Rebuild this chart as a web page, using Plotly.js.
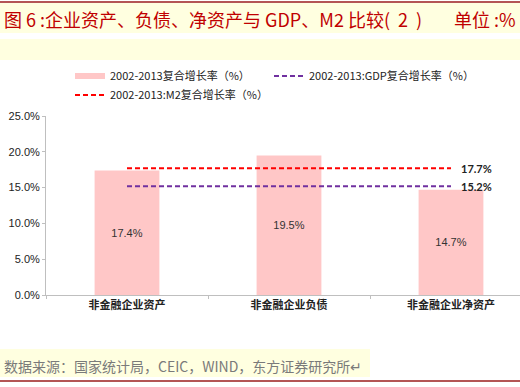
<!DOCTYPE html>
<html>
<head>
<meta charset="utf-8">
<script src="https://cdn.plot.ly/plotly-3.0.1.min.js"></script>
<style>
html,body{margin:0;padding:0;overflow:hidden;background:#fff;}
#chart{width:520px;height:387px;}
</style>
</head>
<body>
<div id="chart"></div>
<script>
// ---- data ----
const categories = ['非金融企业资产', '非金融企业负债', '非金融企业净资产'];
const cagrValues = [17.4, 19.5, 14.7];
const gdpCagr = [15.2, 15.2, 15.2];
const m2Cagr = [17.7, 17.7, 17.7];
const barLabels = ['17.4%', '19.5%', '14.7%'];
const yTickVals = [0, 5, 10, 15, 20, 25];
const yTickText = ['0.0%', '5.0%', '10.0%', '15.0%', '20.0%', '25.0%'];
const seriesNames = ['2002-2013复合增长率（%）', '2002-2013:GDP复合增长率（%）', '2002-2013:M2复合增长率（%）'];
const titleText = '图 6 :企业资产、负债、净资产与 GDP、M2 比较(  2  )';
const unitText = '单位 :%';
const sourceText = '数据来源：国家统计局，CEIC，WIND，东方证券研究所↵';

// ---- geometry helpers (pixel -> paper) ----
const W = 520, H = 387;
const L = 46, R = 520, T = 116, B = 295;
const px = x => (x - L) / (R - L);
const py = y => (B - y) / (B - T);

const pink = '#FFC7C7';
const purple = '#7030A0';
const red = '#FF0000';

const legendFont = {family: 'Noto Sans CJK SC', size: 11, color: '#222'};

const traces = [
  {
    type: 'bar', x: categories, y: cagrValues, name: seriesNames[0], showlegend: false,
    marker: {color: pink}, text: barLabels, textposition: 'inside', insidetextanchor: 'middle',
    textfont: {family: 'Liberation Sans, Arial', size: 11, color: '#333'},
    hoverinfo: 'skip'
  },
  {
    type: 'scatter', mode: 'lines', x: [null], y: [null], name: seriesNames[0],
    line: {color: pink, width: 6}, showlegend: true, legend: 'legend'
  },
  {
    type: 'scatter', mode: 'lines', x: categories, y: gdpCagr, name: seriesNames[1],
    line: {color: purple, width: 2, dash: '5px,3px'}, legend: 'legend'
  },
  {
    type: 'scatter', mode: 'lines', x: categories, y: m2Cagr, name: seriesNames[2],
    line: {color: red, width: 2, dash: '5px,3px'}, legend: 'legend2'
  }
];

const layout = {
  width: W, height: H,
  margin: {l: L, r: W - R, t: T, b: H - B, pad: 0},
  paper_bgcolor: '#fff', plot_bgcolor: '#fff',
  bargap: 0.6,
  showlegend: true,
  legend: {
    orientation: 'h', xref: 'container', yref: 'container',
    x: 70 / W, xanchor: 'left', y: 1 - 76 / H, yanchor: 'middle',
    entrywidth: 154, entrywidthmode: 'pixels',
    font: legendFont, bgcolor: 'rgba(0,0,0,0)', traceorder: 'normal'
  },
  legend2: {
    orientation: 'h', xref: 'container', yref: 'container',
    x: 70 / W, xanchor: 'left', y: 1 - 95 / H, yanchor: 'middle',
    font: legendFont, bgcolor: 'rgba(0,0,0,0)'
  },
  xaxis: {
    type: 'category', range: [-0.5, 2.5 - (532 - 520) / 162],
    showline: true, linecolor: '#BFBFBF', linewidth: 1,
    ticks: 'outside', tickson: 'boundaries', ticklen: 3, tickcolor: '#BFBFBF',
    tickfont: {family: 'Noto Sans CJK SC', size: 11, color: '#222', weight: 'bold'},
    showgrid: false, zeroline: false, fixedrange: true
  },
  yaxis: {
    range: [0, 25], tickvals: yTickVals, ticktext: yTickText,
    showline: true, linecolor: '#BFBFBF', linewidth: 1,
    ticks: 'outside', ticklen: 3, tickcolor: '#BFBFBF',
    tickfont: {family: 'Liberation Sans, Arial', size: 11, color: '#222'},
    showgrid: false, zeroline: false, fixedrange: true
  },
  shapes: [
    {type: 'line', xref: 'paper', yref: 'paper', x0: px(0), x1: px(520), y0: py(2), y1: py(2), line: {color: '#9B1C1C', width: 1.5}},
    {type: 'rect', xref: 'paper', yref: 'paper', x0: px(0), x1: px(520), y0: py(3), y1: py(33), fillcolor: '#FFFFE0', line: {width: 0}, layer: 'below'},
    {type: 'rect', xref: 'paper', yref: 'paper', x0: px(0), x1: px(520), y0: py(39), y1: py(60), fillcolor: '#FFFFE0', line: {width: 0}, layer: 'below'},
    {type: 'rect', xref: 'paper', yref: 'paper', x0: px(0), x1: px(370), y0: py(349), y1: py(377), fillcolor: '#FFFFE0', line: {width: 0}, layer: 'below'},
    {type: 'line', xref: 'paper', yref: 'paper', x0: px(0), x1: px(520), y0: py(381), y1: py(381), line: {color: '#9B1C1C', width: 1.5}}
  ],
  annotations: [
    {xref: 'paper', yref: 'paper', x: px(2), y: py(19), xanchor: 'left', yanchor: 'middle', showarrow: false,
     text: titleText, font: {family: 'Noto Sans CJK SC', size: 18, color: '#C00000'}},
    {xref: 'paper', yref: 'paper', x: px(518), y: py(19), xanchor: 'right', yanchor: 'middle', showarrow: false,
     text: unitText, font: {family: 'Noto Sans CJK SC', size: 18, color: '#C00000'}},
    {xref: 'paper', yref: 'paper', x: px(2), y: py(366), xanchor: 'left', yanchor: 'middle', showarrow: false,
     text: sourceText, font: {family: 'Noto Sans CJK SC', size: 14, color: '#7A7A7A'}},
    {xref: 'x', yref: 'y', x: categories[2], y: m2Cagr[2], xanchor: 'left', yanchor: 'middle', xshift: 8, showarrow: false,
     text: '17.7%', font: {family: 'Lato', size: 11, color: '#222', weight: 'bold'}},
    {xref: 'x', yref: 'y', x: categories[2], y: gdpCagr[2], xanchor: 'left', yanchor: 'middle', xshift: 8, showarrow: false,
     text: '15.2%', font: {family: 'Lato', size: 11, color: '#222', weight: 'bold'}}
  ]
};

Plotly.newPlot('chart', traces, layout, {displayModeBar: false, staticPlot: true});
</script>
</body>
</html>
